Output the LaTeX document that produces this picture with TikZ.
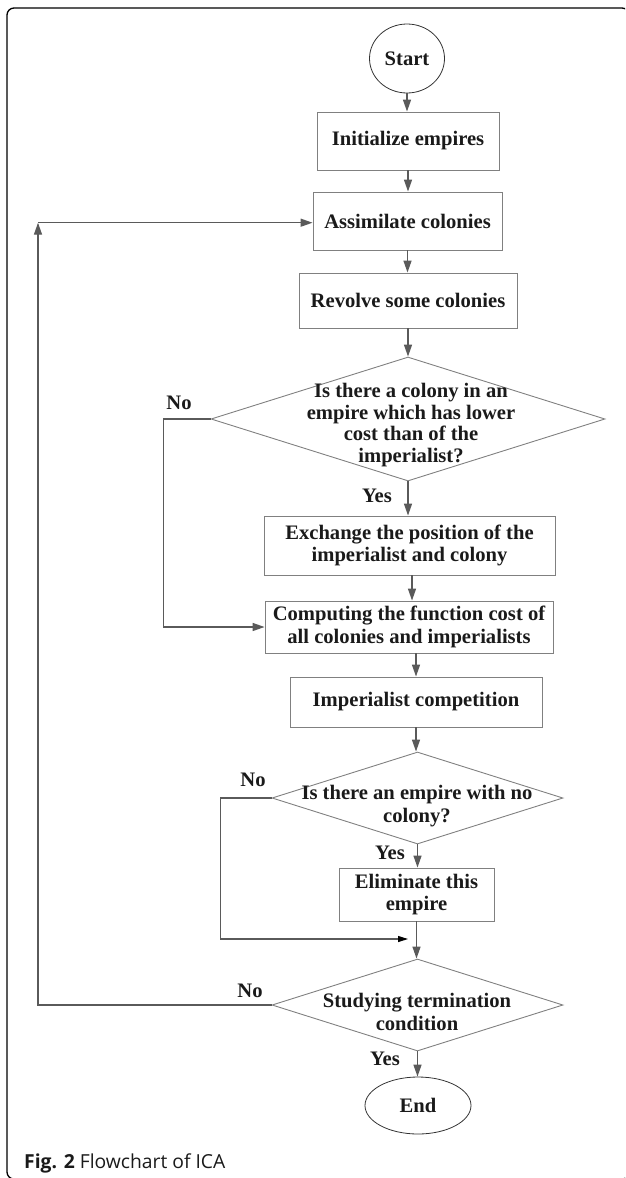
\documentclass[tikz,border=0pt]{standalone}
\usepackage{fontspec}
\setmainfont{Liberation Serif}
\newfontfamily\capfont{Open Sans}
\usetikzlibrary{shapes.geometric,arrows.meta}
\definecolor{boxgray}{HTML}{808080}
\definecolor{arrgray}{HTML}{5A5A5A}
\definecolor{txt}{HTML}{1A1A1A}
\begin{document}
\begin{tikzpicture}[x=1pt,y=-1pt,
  font=\fontsize{20.6}{22.6}\selectfont\bfseries,
  every node/.style={text=txt},
  stepbox/.style={draw=boxgray,line width=0.9pt,inner sep=0pt,align=center},
  dia/.style={diamond,draw=boxgray,line width=0.9pt,inner sep=0pt},
  term/.style={ellipse,draw=black!80,line width=0.8pt,inner sep=0pt},
  lbl/.style={inner sep=0pt},
  dtext/.style={inner sep=0pt,align=center},
  arr/.style={draw=arrgray,line width=1.4pt,-{Triangle[length=12pt,width=8pt]}},
  arrb/.style={draw=arrgray,line width=1.1pt,-{Triangle[length=10pt,width=6pt,color=black]}},
  joint/.style={draw=arrgray,line width=1.4pt}
]
\useasboundingbox (0,0) rectangle (625,1178);
% frame
\begin{scope}
\clip (0,0) rectangle (625,1178);
\draw[line width=1.3pt,rounded corners=7pt] (7,8) rectangle (629,1179);
\end{scope}

% nodes
\node[term,minimum width=75pt,minimum height=69pt] (start) at (407,58.5) {Start};
\node[stepbox,minimum width=182pt,minimum height=58pt] (init) at (408,141) {Initialize empires};
\node[stepbox,minimum width=189pt,minimum height=58pt] (assim) at (407.5,221) {Assimilate colonies};
\node[stepbox,minimum width=218pt,minimum height=55pt] (revolve) at (408,300.5) {Revolve some colonies};

\node[dia,minimum width=394pt,minimum height=124pt] (d1) at (408,419) {};
\node[dtext,font=\fontsize{20.6}{21.4}\selectfont\bfseries] (t1) at (411,425) {Is there a colony in an\\empire which has lower\\cost than of the\\imperialist?};

\node[stepbox,minimum width=291pt,minimum height=59pt] (exch) at (409.5,545.5) {Exchange the position of the\\imperialist and colony};
\node[stepbox,minimum width=288pt,minimum height=52pt] (comp) at (409,627) {Computing the function cost of\\all colonies and imperialists};
\node[stepbox,minimum width=252pt,minimum height=50pt] (imp) at (416,702) {Imperialist competition};

\node[dia,minimum width=291pt,minimum height=92pt] (d2) at (417.5,798) {};
\node[dtext] (t2) at (417,806) {Is there an empire with no\\colony?};

\node[stepbox,minimum width=155pt,minimum height=53pt] (elim) at (416.5,894.5) {Eliminate this\\empire};

\node[dia,minimum width=291pt,minimum height=92pt] (d3) at (417.5,1005) {};
\node[dtext] (t3) at (417,1012) {Studying termination\\condition};

\node[term,minimum width=106pt,minimum height=57pt] (end) at (418,1105.5) {End};

% labels
\node[lbl] (no1) at (179,403) {No};
\node[lbl] (yes1) at (377,496) {Yes};
\node[lbl] (no2) at (253,780) {No};
\node[lbl] (yes2) at (390,853) {Yes};
\node[lbl] (no3) at (250,991) {No};
\node[lbl] (yes3) at (385,1059) {Yes};

% caption
\node[anchor=base west,inner sep=0pt,text=txt,font=\capfont\fontsize{19.3}{22}\selectfont] (cap) at (24,1168) {\textbf{Fig. 2} Flowchart of ICA};

% connectors
\draw[arr] (start.south) -- (start.south |- init.north);
\draw[arr] (init.south) -- (init.south |- assim.north);
\draw[arr] (assim.south) -- (assim.south |- revolve.north);
\draw[arr] (revolve.south) -- (revolve.south |- d1.north);
\draw[arr] (d1.south) -- (d1.south |- exch.north);
\draw[arr] (d1.west) -- ++(-47,0) |- (comp.west);
\draw[arr] (exch.south -| 412,0) -- (comp.north -| 412,0);
\draw[arr] (imp.north |- comp.south) -- (imp.north);
\draw[arr] (imp.south) -- (imp.south |- d2.north);
\draw[arr] (d2.south) -- (d2.south |- elim.north);
\coordinate (m1) at (408,939);
\draw[arrb] (d2.west) -- ++(-51,0) |- (m1);
\draw[arr] (elim.south) -- (elim.south |- d3.north);
\draw[arr] (d3.south) -- (d3.south |- end.north);
\coordinate (c1) at (38,222.7);
\draw[arr] (d3.west) -| (c1);
\draw[arr] (c1) -- (c1 -| assim.west);
\end{tikzpicture}
\end{document}
